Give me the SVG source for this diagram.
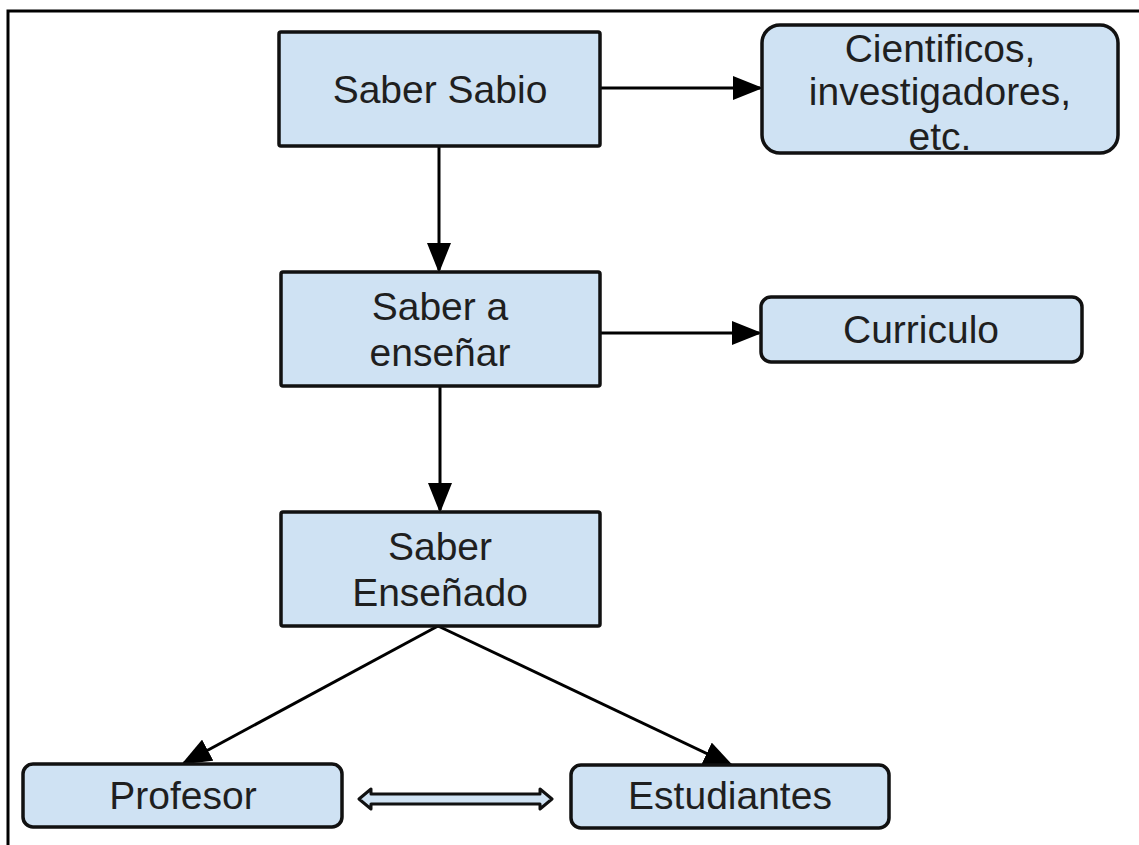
<svg xmlns="http://www.w3.org/2000/svg" width="1139" height="845" viewBox="0 0 1139 845">
<style>
.box{fill:#cfe2f3;stroke:#111;stroke-width:3.5}
.t{font-family:"Liberation Sans",Arial,sans-serif;font-size:39px;fill:#1f1f1f;text-anchor:middle}
.c{stroke:#000;stroke-width:3;fill:none}
</style>
<defs>
<marker id="ah" markerWidth="10" markerHeight="8" refX="9" refY="4" orient="auto" markerUnits="strokeWidth">
<path d="M0,0 L10,4 L0,8 Z" fill="#000"/>
</marker>
</defs>
<rect width="1139" height="845" fill="#fff"/>
<path d="M8,845 V11 H1139" fill="none" stroke="#000" stroke-width="3"/>
<g id="connectors">
<line class="c" x1="600" y1="88" x2="760" y2="88" marker-end="url(#ah)"/>
<line class="c" x1="439" y1="146" x2="439" y2="270" marker-end="url(#ah)"/>
<line class="c" x1="600" y1="333" x2="759" y2="333" marker-end="url(#ah)"/>
<line class="c" x1="440" y1="386" x2="440" y2="510" marker-end="url(#ah)"/>
<line class="c" x1="438" y1="626" x2="184" y2="763" marker-end="url(#ah)"/>
<line class="c" x1="438" y1="626" x2="731" y2="765" marker-end="url(#ah)"/>
<path d="M359,799 L371,789 L371,794 L540,794 L540,789 L552,799 L540,809 L540,804 L371,804 L371,809 Z" fill="#cfe2f3" stroke="#111" stroke-width="3" stroke-linejoin="round"/>
</g>
<g id="saber-sabio">
<rect class="box" x="279" y="32" width="321" height="114" rx="2"/>
<text class="t" x="440" y="103">Saber Sabio</text>
</g>
<g id="cientificos">
<rect class="box" x="762" y="25" width="356" height="128" rx="18"/>
<text class="t" x="940" y="62">Cientificos,</text>
<text class="t" x="940" y="105">investigadores,</text>
<text class="t" x="940" y="150">etc.</text>
</g>
<g id="saber-a-ensenar">
<rect class="box" x="281" y="272" width="319" height="114" rx="2"/>
<text class="t" x="440" y="320">Saber a</text>
<text class="t" x="440" y="366">enseñar</text>
</g>
<g id="curriculo">
<rect class="box" x="761" y="297" width="321" height="65" rx="10"/>
<text class="t" x="921" y="343">Curriculo</text>
</g>
<g id="saber-ensenado">
<rect class="box" x="281" y="512" width="319" height="114" rx="2"/>
<text class="t" x="440" y="560">Saber</text>
<text class="t" x="440" y="606">Enseñado</text>
</g>
<g id="profesor">
<rect class="box" x="23" y="764" width="319" height="63" rx="10"/>
<text class="t" x="183" y="809">Profesor</text>
</g>
<g id="estudiantes">
<rect class="box" x="571" y="765" width="318" height="63" rx="10"/>
<text class="t" x="730" y="809">Estudiantes</text>
</g>
</svg>
